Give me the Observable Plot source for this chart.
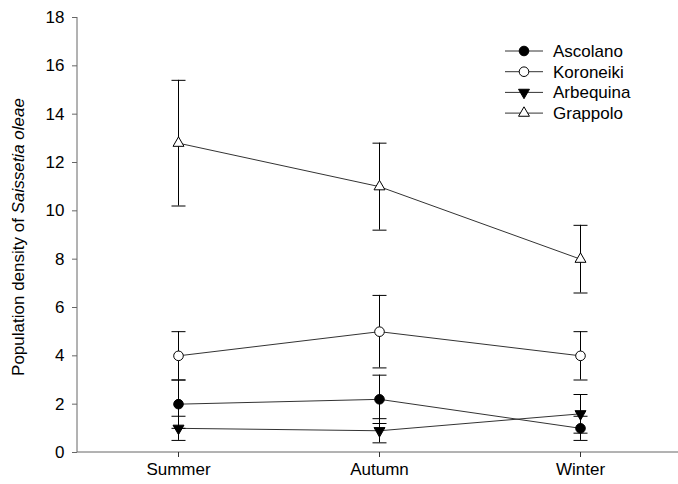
<!DOCTYPE html>
<html>
<head>
<meta charset="utf-8">
<script src="https://cdn.jsdelivr.net/npm/d3@7"></script>
<script src="https://cdn.jsdelivr.net/npm/@observablehq/plot@0.6"></script>
<style>
  html, body { margin: 0; padding: 0; background: #fff; }
  #chart { position: relative; width: 678px; height: 484px; }
  #chart svg { display: block; }
  #overlay { position: absolute; left: 0; top: 0; pointer-events: none; }
</style>
</head>
<body>
<div id="chart"></div>
<script>
// ---- data ----
const seasons = ["Summer", "Autumn", "Winter"];
const cultivars = ["Ascolano", "Koroneiki", "Arbequina", "Grappolo"];
const ascolanoMean = [2.0, 2.2, 1.0];
const ascolanoErr = [1.0, 1.0, 0.5];
const koroneikiMean = [4.0, 5.0, 4.0];
const koroneikiErr = [1.0, 1.5, 1.0];
const arbequinaMean = [1.0, 0.9, 1.6];
const arbequinaErr = [0.5, 0.5, 0.8];
const grappoloMean = [12.8, 11.0, 8.0];
const grappoloErr = [2.6, 1.8, 1.4];
const yTicks = [0, 2, 4, 6, 8, 10, 12, 14, 16, 18];
const yTitle = "Population density of ";
const yTitleItalic = "Saissetia oleae";

// ---- symbols ----
const symCircle = { draw(ctx) { const r = 4.8; ctx.moveTo(r, 0); ctx.arc(0, 0, r, 0, 2 * Math.PI); } };
const R = 6.3, hx = R * Math.sin(Math.PI / 3);
const symTriUp = { draw(ctx) { ctx.moveTo(0, -R); ctx.lineTo(hx, R / 2); ctx.lineTo(-hx, R / 2); ctx.closePath(); } };
const symTriDown = { draw(ctx) { ctx.moveTo(0, R); ctx.lineTo(hx, -R / 2); ctx.lineTo(-hx, -R / 2); ctx.closePath(); } };
const symCap = { draw(ctx) { ctx.moveTo(-7, 0); ctx.lineTo(7, 0); } };

const style = {
  Ascolano: { symbol: symCircle, fill: "black" },
  Koroneiki: { symbol: symCircle, fill: "white" },
  Arbequina: { symbol: symTriDown, fill: "black" },
  Grappolo: { symbol: symTriUp, fill: "white" }
};

const series = {
  Ascolano: [ascolanoMean, ascolanoErr],
  Koroneiki: [koroneikiMean, koroneikiErr],
  Arbequina: [arbequinaMean, arbequinaErr],
  Grappolo: [grappoloMean, grappoloErr]
};

const rows = [];
for (const c of cultivars) {
  const [m, e] = series[c];
  seasons.forEach((s, i) => rows.push({ cultivar: c, season: s, value: m[i], lo: m[i] - e[i], hi: m[i] + e[i] }));
}

// axis line render (uses plot dimensions)
function axisLines(index, scales, values, dims) {
  const d = [index, scales, values, dims].find(a => a && a.marginLeft !== undefined) || dims;
  const g = d3.create("svg:g").attr("stroke", "#666").attr("fill", "none");
  g.append("line").attr("x1", d.marginLeft).attr("x2", d.marginLeft)
    .attr("y1", d.marginTop).attr("y2", d.height - d.marginBottom);
  g.append("line").attr("x1", d.marginLeft).attr("x2", d.width)
    .attr("y1", d.height - d.marginBottom).attr("y2", d.height - d.marginBottom);
  return g.node();
}

const marks = [
  axisLines,
  Plot.axisY({ ticks: yTicks, tickSize: 5, tickPadding: 8, label: null, stroke: "#666", fill: "black" }),
  Plot.axisX({ tickSize: 5, tickPadding: 5, label: null, stroke: "#333", fill: "black" }),
  Plot.line(rows, { x: "season", y: "value", z: "cultivar", stroke: "#333", strokeWidth: 1 }),
  Plot.ruleX(rows, { x: "season", y1: "lo", y2: "hi", stroke: "black", strokeWidth: 1 }),
  Plot.dot(rows, { x: "season", y: "lo", symbol: symCap, stroke: "black", strokeWidth: 1 }),
  Plot.dot(rows, { x: "season", y: "hi", symbol: symCap, stroke: "black", strokeWidth: 1 })
];
for (const c of cultivars) {
  marks.push(Plot.dot(rows.filter(d => d.cultivar === c), {
    x: "season", y: "value", symbol: style[c].symbol, fill: style[c].fill, stroke: "black", strokeWidth: 1
  }));
}

const plot = Plot.plot({
  width: 678,
  height: 484,
  marginLeft: 77,
  marginRight: -3,
  marginTop: 17,
  marginBottom: 32,
  style: { fontFamily: "Arial, 'Liberation Sans', sans-serif", fontSize: "17px", background: "white", overflow: "visible", color: "black" },
  x: { domain: seasons, type: "point", padding: 0.5, axis: null },
  y: { domain: [0, 18], axis: null },
  marks
});
document.getElementById("chart").appendChild(plot);

// ---- overlay: legend + y title ----
const ov = d3.select("#chart").append("svg").attr("id", "overlay")
  .attr("width", 678).attr("height", 484)
  .style("font-family", "Arial, 'Liberation Sans', sans-serif").style("font-size", "17px");

const leg = ov.append("g");
cultivars.forEach((c, i) => {
  const y = 51 + i * 20.7;
  const g = leg.append("g").attr("transform", `translate(0,${y})`);
  g.append("line").attr("x1", 505).attr("x2", 543).attr("stroke", "#333");
  const p = d3.path(); style[c].symbol.draw(p);
  g.append("path").attr("d", p.toString()).attr("transform", "translate(524,0)")
    .attr("fill", style[c].fill).attr("stroke", "black");
  g.append("text").attr("x", 553).attr("dy", "0.35em").attr("fill", "black").text(c);
});

const t = ov.append("text").attr("transform", "translate(24,237) rotate(-90)")
  .attr("text-anchor", "middle").attr("fill", "black");
t.append("tspan").text(yTitle);
t.append("tspan").attr("font-style", "italic").text(yTitleItalic);
</script>
</body>
</html>
